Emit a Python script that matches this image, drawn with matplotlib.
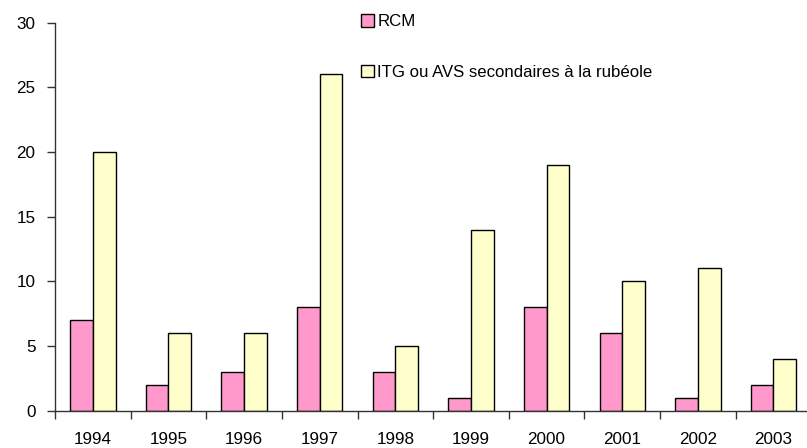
import numpy as np
import matplotlib.pyplot as plt

annees = ["1994", "1995", "1996", "1997", "1998", "1999", "2000", "2001", "2002", "2003"]
rcm = [7, 2, 3, 8, 3, 1, 8, 6, 1, 2]
itg = [20, 6, 6, 26, 5, 14, 19, 10, 11, 4]

plt.rcParams['font.family'] = ['Liberation Sans', 'DejaVu Sans']

W, H = 807, 448
fig = plt.figure(figsize=(W / 100, H / 100), dpi=100)
# axe : gauche 55 px, bas 410.7 px, haut 22.7 px, droite au-dela du bord
ax = fig.add_axes([55 / W, (H - 410.7) / H, 756.3 / W, 388 / H])

x = np.arange(len(annees))
larg = 0.3
ax.bar(x - larg / 2, rcm, larg, color="#FF99CC", edgecolor="black", linewidth=1, label="RCM")
ax.bar(x + larg / 2, itg, larg, color="#FFFFCC", edgecolor="black", linewidth=1,
       label="ITG ou AVS secondaires à la rubéole")

ax.set_xlim(-0.5, len(annees) - 0.5)
ax.set_ylim(0, 30)
ax.set_yticks(range(0, 31, 5))

# graduations aux limites des categories, etiquettes au centre
ax.set_xticks(np.arange(-0.5, len(annees), 1))
ax.set_xticklabels([])
ax.set_xticks(x, minor=True)
ax.set_xticklabels(annees, minor=True)
ax.tick_params(axis="x", which="major", direction="out", length=6, width=1, colors="#333333")
ax.tick_params(axis="x", which="minor", length=0, pad=15, labelsize=12.3, labelcolor="black")
ax.tick_params(axis="y", direction="out", length=6, width=1, pad=8, labelsize=12.3, colors="#333333",
               labelcolor="black")

for s in ["top", "right"]:
    ax.spines[s].set_visible(False)
for s in ["left", "bottom"]:
    ax.spines[s].set_color("#333333")
    ax.spines[s].set_linewidth(1)

leg = fig.legend(loc="upper left", bbox_to_anchor=(360.5 / W, 1 - 14 / H), frameon=False,
                 fontsize=12.1, handlelength=0.8, handleheight=0.8, handletextpad=0.2,
                 labelspacing=2.1, borderpad=0, borderaxespad=0)

fig.savefig("out.png", dpi=100)
